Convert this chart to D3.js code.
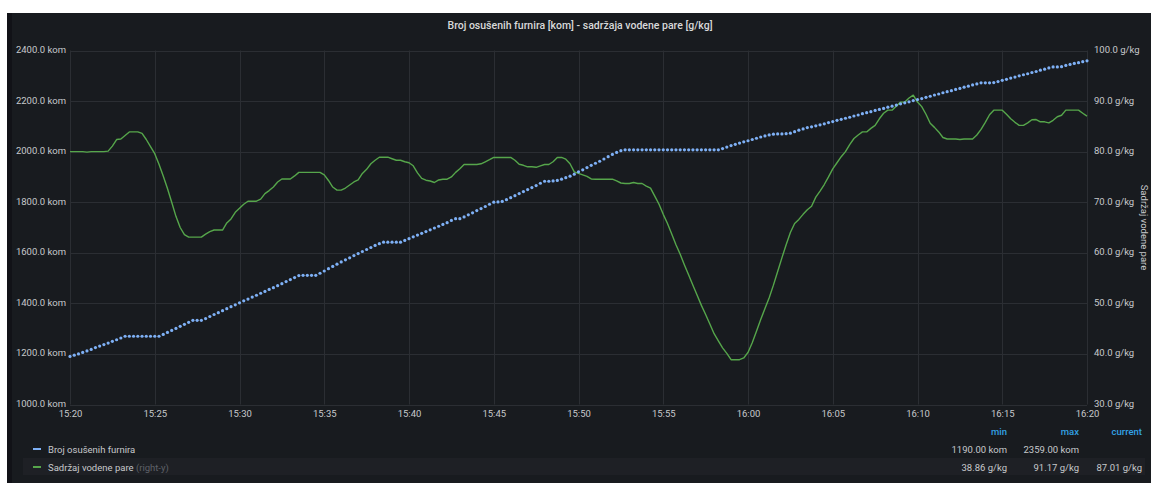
<!DOCTYPE html>
<html><head><meta charset="utf-8">
<script src="https://cdn.jsdelivr.net/npm/d3@7"></script>
<style>
body{margin:0;background:#ffffff;}
text{font-family:Roboto,"Noto Sans",sans-serif;}
</style>
</head><body>
<svg id="chart" width="1151" height="483"></svg>
<script>
// ---- data ----
const titleText = "Broj osušenih furnira [kom] - sadržaja vodene pare [g/kg]";
const seriesNames = ["Broj osušenih furnira", "Sadržaj vodene pare"];
const startTime = new Date(2020, 0, 1, 15, 20, 0);
const stepSeconds = 15;
const xTickLabels = ["15:20","15:25","15:30","15:35","15:40","15:45","15:50","15:55","16:00","16:05","16:10","16:15","16:20"];
const leftTicks = [1000,1200,1400,1600,1800,2000,2200,2400];
const rightTicks = [30,40,50,60,70,80,90,100];
const rightAxisTitle = "Sadržaj vodene pare";

const brojFurnira = [
1190,1195,1200,1206,1212,1218,1225,1231,1237,1243,1250,1256,1263,
1270,1270,1270,1270,1270,1270,1270,1270,1270,
1277,1285,1293,1301,1309,1317,1325,
1333,1333,1333,
1340,1348,1356,1363,1371,1379,1387,1394,1402,1410,1417,1425,1432,1440,1447,1455,1462,1470,1478,1486,1494,1502,
1510,1511,1511,1511,1511,
1519,1528,1537,1546,1555,1564,1572,1580,1589,1597,1605,1613,1621,1629,1636,
1642,1642,1642,1642,1642,
1649,1656,1663,1670,1677,1684,1691,1698,1705,1712,1719,1728,1735,1735,
1742,1750,1758,1767,1775,1783,1792,1800,1801,1803,
1810,1818,1826,1834,1842,1850,1858,1866,1875,1883,1883,1884,1886,
1891,1897,1903,1911,1920,1928,1937,1946,1954,1962,1971,1980,1989,1997,2004,2007,
2007,2007,2007,2007,2007,2007,2007,2007,2007,2007,2007,2007,2007,2007,2007,2007,2007,2007,2007,2007,2007,2007,
2012,2018,2024,2029,2034,2039,2043,2048,2053,2058,2062,2066,2069,2070,2070,2071,2073,
2079,2085,2090,2095,2098,2102,2106,
2110,2115,2119,2124,2128,2132,2136,2141,2145,2150,2154,2158,2163,2167,2171,2176,2180,2184,2189,2193,2197,2202,2206,
2210,2215,2219,2224,2228,2233,2237,2241,2246,2250,2255,2259,2264,2268,2272,2272,2272,2273,2277,2282,
2286,2291,2295,2300,2304,2308,2313,2317,2322,2326,2331,2335,2335,2336,2341,2345,2349,2352,2356,2359
];

const vodenaPara = [
80.0,80.0,80.0,80.0,79.9,80.0,80.0,80.0,80.0,
80.1,81.1,82.4,82.5,83.2,83.9,83.9,83.9,83.6,82.4,81.0,79.6,
77.5,75.2,72.7,70.0,67.2,65.0,63.6,63.1,
63.1,63.1,63.1,
63.7,64.2,64.5,64.5,64.5,65.9,66.7,68.0,68.8,69.6,70.2,70.2,70.2,70.6,71.7,72.3,73.0,74.0,74.6,74.6,74.6,75.2,75.9,75.9,75.9,75.9,75.9,75.9,
75.4,74.3,73.0,72.4,72.4,72.8,73.4,74.0,74.4,75.7,76.5,77.6,78.3,78.9,78.9,78.9,78.6,78.3,78.3,78.0,
77.8,77.2,75.8,74.7,74.35,74.2,73.9,74.4,74.55,74.55,75.0,75.9,76.6,77.45,77.45,77.45,77.45,77.6,78.0,78.4,
78.85,78.85,78.85,78.85,78.85,78.3,77.5,77.3,77.0,77.0,76.9,77.2,77.45,77.45,78.0,78.85,78.85,78.5,77.6,76.0,
75.7,75.4,75.1,74.6,74.55,74.55,74.55,74.55,74.55,74.2,73.8,73.7,73.7,73.9,73.7,73.7,73.2,72.8,71.2,69.6,
67.6,65.8,63.7,61.6,59.7,57.6,55.6,53.6,51.6,49.6,47.8,45.9,44.0,42.6,41.2,40.1,38.86,38.86,38.86,39.2,40.3,
42.2,44.5,46.8,49.0,51.1,53.6,56.3,59.0,61.6,64.0,65.8,66.6,67.6,68.5,69.2,71.0,72.2,73.5,75.0,76.6,
77.8,79.0,80.0,81.4,82.6,83.3,83.9,83.9,84.6,85.2,86.5,87.6,88.2,88.2,89.0,89.8,89.8,90.6,91.17,89.8,
88.9,87.4,85.6,84.8,83.9,82.8,82.5,82.5,82.5,82.4,82.5,82.5,82.5,83.3,84.4,85.8,87.3,88.2,88.2,88.2,
87.4,86.5,85.8,85.2,85.2,85.7,86.3,86.35,85.9,85.9,85.7,86.2,86.9,87.2,88.2,88.2,88.2,88.2,87.6,87.01
];

// ---- layout / style ----
const W = 1151, H = 483;
const plot = {left: 70, right: 1087, top: 50.5, bottom: 404.5};
const C = {
  pageDark: "#111217", panel: "#181b1f", grid: "#2b2e33", text: "#c7c9cc",
  title: "#d8d9da", blue: "#7eb0f5", green: "#56a64b", legendHead: "#33a2e5",
  muted: "#5e6168", rowBg: "#1e2025"
};

const times = brojFurnira.map((_, i) => new Date(startTime.getTime() + i * stepSeconds * 1000));
const endTime = times[times.length - 1];

const svg = d3.select("#chart");

svg.append("rect").attr("x", 7).attr("y", 13).attr("width", W - 7).attr("height", H - 13).attr("fill", C.pageDark);
svg.append("rect").attr("x", 12).attr("y", 13).attr("width", W - 12).attr("height", H - 13).attr("fill", C.panel);

const x = d3.scaleTime().domain([startTime, endTime]).range([plot.left, plot.right]);
const yL = d3.scaleLinear().domain([leftTicks[0], leftTicks[leftTicks.length - 1]]).range([plot.bottom, plot.top]);
const yR = d3.scaleLinear().domain([rightTicks[0], rightTicks[rightTicks.length - 1]]).range([plot.bottom, plot.top]);

const xTickTimes = xTickLabels.map(s => { const [h, m] = s.split(":").map(Number); return new Date(2020, 0, 1, h, m, 0); });

// title
svg.append("text").attr("x", 580).attr("y", 29).attr("text-anchor", "middle")
  .attr("fill", C.title).attr("font-size", 10.5).attr("font-weight", 500).text(titleText);

// grid
const grid = svg.append("g");
grid.selectAll("line.h").data(leftTicks).join("line")
  .attr("x1", plot.left).attr("x2", plot.right)
  .attr("y1", d => Math.round(yL(d)) + 0.5).attr("y2", d => Math.round(yL(d)) + 0.5)
  .attr("stroke", C.grid).attr("stroke-width", 1);
grid.selectAll("line.v").data(xTickTimes).join("line")
  .attr("y1", plot.top).attr("y2", plot.bottom)
  .attr("x1", d => Math.round(x(d)) + 0.5).attr("x2", d => Math.round(x(d)) + 0.5)
  .attr("stroke", C.grid).attr("stroke-width", 1);

// axes
const axL = svg.append("g").attr("transform", `translate(${plot.left - 4},-1)`)
  .call(d3.axisLeft(yL).tickValues(leftTicks).tickSize(0).tickPadding(0).tickFormat(d => d.toFixed(1) + " kom"));
const axR = svg.append("g").attr("transform", `translate(${plot.right + 7},-1)`)
  .call(d3.axisRight(yR).tickValues(rightTicks).tickSize(0).tickPadding(0).tickFormat(d => d.toFixed(1) + " g/kg"));
const axB = svg.append("g").attr("transform", `translate(0,${plot.bottom + 6})`)
  .call(d3.axisBottom(x).tickValues(xTickTimes).tickSize(0).tickPadding(0).tickFormat((d, i) => xTickLabels[i]));
[axL, axR, axB].forEach(a => {
  a.select(".domain").remove();
  a.selectAll("text").attr("fill", C.text).attr("font-size", 9.5).attr("font-family", "Roboto, sans-serif");
});

svg.append("text")
  .attr("transform", `translate(1141,${(plot.top + plot.bottom) / 2}) rotate(90)`)
  .attr("text-anchor", "middle").attr("fill", C.text).attr("font-size", 9.5).text(rightAxisTitle);

// series: green line (right axis)
const line = d3.line().x((d, i) => x(times[i])).y(d => yR(d));
svg.append("path").datum(vodenaPara).attr("d", line)
  .attr("fill", "none").attr("stroke", C.green).attr("stroke-width", 1.4).attr("stroke-linejoin", "round");

// series: blue points (left axis)
svg.append("g").selectAll("circle").data(brojFurnira).join("circle")
  .attr("cx", (d, i) => x(times[i])).attr("cy", d => yL(d)).attr("r", 1.6).attr("fill", C.blue);

// legend
const lg = svg.append("g");
lg.append("rect").attr("x", 23).attr("y", 458).attr("width", 1122).attr("height", 17).attr("fill", C.rowBg);
const headers = [["min", 1007], ["max", 1079], ["current", 1142]];
headers.forEach(([t, xx]) => lg.append("text").attr("x", xx).attr("y", 435).attr("text-anchor", "end")
  .attr("fill", C.legendHead).attr("font-size", 9.5).attr("font-weight", 500).text(t));

const f2 = d => d.toFixed(2);
const rows = [
  {name: seriesNames[0], extra: "", color: C.blue, y: 449,
   vals: [f2(d3.min(brojFurnira)) + " kom", f2(d3.max(brojFurnira)) + " kom", ""]},
  {name: seriesNames[1], extra: " (right-y)", color: C.green, y: 467,
   vals: [f2(d3.min(vodenaPara)) + " g/kg", f2(d3.max(vodenaPara)) + " g/kg", f2(vodenaPara[vodenaPara.length - 1]) + " g/kg"]}
];
rows.forEach(r => {
  lg.append("line").attr("x1", 33).attr("x2", 41).attr("y1", r.y).attr("y2", r.y).attr("stroke", r.color).attr("stroke-width", 2);
  const t = lg.append("text").attr("x", 48).attr("y", r.y + 3.5).attr("fill", C.text).attr("font-size", 9.5);
  t.append("tspan").text(r.name);
  if (r.extra) t.append("tspan").attr("fill", C.muted).text(r.extra);
  r.vals.forEach((v, k) => {
    if (v) lg.append("text").attr("x", headers[k][1]).attr("y", r.y + 3.5).attr("text-anchor", "end")
      .attr("fill", C.text).attr("font-size", 9.5).text(v);
  });
});
</script>
</body></html>
